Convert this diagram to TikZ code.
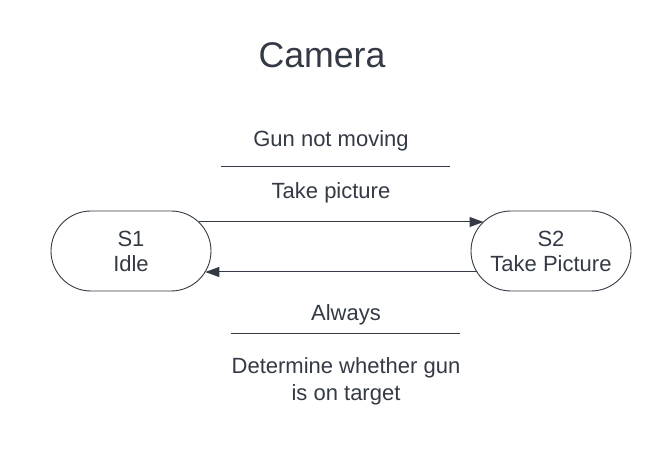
\documentclass[tikz,border=0pt]{standalone}
\usepackage{fontspec}
\setmainfont{Liberation Sans}
\usetikzlibrary{shapes.misc,arrows.meta,calc}
\definecolor{ink}{HTML}{333A45}
\begin{document}
\begin{tikzpicture}[x=1pt,y=1pt,
  state/.style={draw=ink,line width=0.9pt,rounded rectangle,minimum width=160pt,minimum height=80pt,text=ink,align=center,font=\fontsize{22}{25}\selectfont,inner sep=0pt},
  lbl/.style={text=ink,align=center,font=\fontsize{22}{27}\selectfont,inner sep=0pt},
  arr/.style={draw=ink,line width=1pt,-{Triangle[length=14pt,width=10pt]}},
  bar/.style={draw=ink,line width=1pt}]
\useasboundingbox (0,0) rectangle (667,461);
\node[text=ink,font=\fontsize{35.7}{40}\selectfont] (title) at (322,406) {Camera};
\node[state] (s1) at (131,210) {S1\\Idle};
\node[state] (s2) at (551,210) {S2\\Take Picture};
\node[lbl] (g1) at (331,320) {Gun not moving};
\node[lbl] (a1) at (331,268) {Take picture};
\coordinate (b1l) at (221,294);
\coordinate (b1r) at (450,294);
\draw[bar] (b1l) -- (b1r);
\node[lbl] (g2) at (346,146) {Always};
\node[lbl] (a2) at (346,80) {Determine whether gun\\is on target};
\coordinate (b2l) at (231,127);
\coordinate (b2r) at (460,127);
\draw[bar] (b2l) -- (b2r);
\draw[arr] ($(s1.center)+(67.5,29)$) -- ($(s2.center)+(-67.5,29)$);
\draw[arr] ($(s2.center)+(-74.3,-21)$) -- ($(s1.center)+(74.3,-21)$);
\end{tikzpicture}
\end{document}
